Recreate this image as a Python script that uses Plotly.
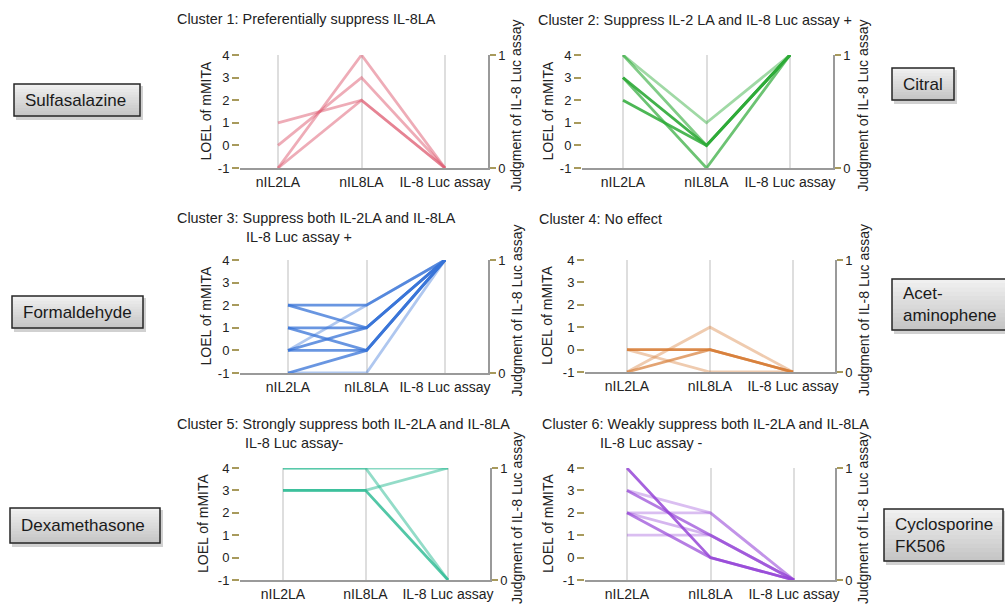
import plotly.graph_objects as go

W, H = 1005, 609

# ---------------- data ----------------
categories = ["nIL2LA", "nIL8LA", "IL-8 Luc assay"]
loel_ticks = [-1, 0, 1, 2, 3, 4]
judgment_ticks = [0, 1]

c1_il2 = [1, 0, -1, -1]
c1_il8 = [2, 3, 4, 2]
c1_luc = [0, 0, 0, 0]

c2_il2 = [4, 4, 3, 3, 2]
c2_il8 = [1, 0, 0, -1, 0]
c2_luc = [1, 1, 1, 1, 1]

c3_il2 = [2, 2, 1, 1, 0, 0, 0, -1, -1]
c3_il8 = [2, 1, 1, 0, 2, 1, 0, 0, -1]
c3_luc = [1, 1, 1, 1, 1, 1, 1, 1, 1]

c4_il2 = [0, 0, -1, -1]
c4_il8 = [0, -1, 1, 0]
c4_luc = [0, 0, 0, 0]

c5_il2 = [4, 4, 3, 3]
c5_il8 = [4, 4, 3, 3]
c5_luc = [1, 0, 1, 0]

c6_il2 = [4, 3, 3, 2, 2, 2, 1]
c6_il8 = [0, 2, 1, 2, 1, 0, 1]
c6_luc = [0, 0, 0, 0, 0, 0, 0]

titles = [
    ["Cluster 1: Preferentially suppress IL-8LA"],
    ["Cluster 2: Suppress IL-2 LA and IL-8 Luc assay +"],
    ["Cluster 3: Suppress both IL-2LA and IL-8LA", "IL-8 Luc assay +"],
    ["Cluster 4: No effect"],
    ["Cluster 5: Strongly suppress both IL-2LA and IL-8LA", "IL-8 Luc assay-"],
    ["Cluster 6: Weakly suppress both IL-2LA and IL-8LA", "IL-8 Luc assay -"],
]
compounds = ["Sulfasalazine", "Citral", "Formaldehyde", "Acet-<br>aminophene",
             "Dexamethasone", "Cyclosporine<br>FK506"]

clusters = [
    (c1_il2, c1_il8, c1_luc),
    (c2_il2, c2_il8, c2_luc),
    (c3_il2, c3_il8, c3_luc),
    (c4_il2, c4_il8, c4_luc),
    (c5_il2, c5_il8, c5_luc),
    (c6_il2, c6_il8, c6_luc),
]

# ---------------- styles / positions ----------------
colors = ["222,90,112", "45,170,55", "55,115,215", "215,125,55", "40,185,145", "150,70,215"]
opac = [
    [0.5, 0.5, 0.5, 0.5],
    [0.45, 0.6, 0.9, 0.7, 0.85],
    [0.75, 0.75, 0.75, 0.75, 0.4, 0.75, 0.75, 0.75, 0.4],
    [0.9, 0.4, 0.4, 0.7],
    [0.55, 0.5, 0.5, 0.8],
    [0.85, 0.35, 0.7, 0.35, 0.4, 0.7, 0.35],
]
# plot geometry in pixels
geo = [
    dict(left=240, right=488, c0=278, c2=445, top=55, bottom=168, ylt=205, yrt=515, tx=175, ty=19, tx2=None),
    dict(left=582, right=833, c0=623, c2=790, top=55, bottom=168, ylt=547, yrt=862, tx=536, ty=20, tx2=None),
    dict(left=240, right=488, c0=288, c2=445, top=260, bottom=373, ylt=205, yrt=516, tx=175, ty=218, tx2=244),
    dict(left=585, right=835, c0=627, c2=793, top=260, bottom=372, ylt=547, yrt=864, tx=537, ty=219, tx2=None),
    dict(left=240, right=490, c0=283, c2=448, top=468, bottom=580, ylt=203, yrt=517, tx=175, ty=424, tx2=243),
    dict(left=585, right=835, c0=627, c2=794, top=468, bottom=580, ylt=548, yrt=863, tx=540, ty=424, tx2=598),
]
boxes = [
    dict(x0=14, x1=140, y0=84, y1=116, tx=23),
    dict(x0=892, x1=954, y0=68, y1=100, tx=901),
    dict(x0=12, x1=143, y0=296, y1=328, tx=21),
    dict(x0=892, x1=1010, y0=279, y1=330, tx=901),
    dict(x0=10, x1=160, y0=508, y1=543, tx=19),
    dict(x0=884, x1=1003, y0=509, y1=561, tx=893),
]

FONT = "Liberation Sans, Arial, Helvetica, sans-serif"
OLIVE = "#a89a5c"


def px(x):
    return x / W


def py(y):
    return 1 - y / H


fig = go.Figure()
layout = dict(
    template="none",
    width=W, height=H, autosize=False, margin=dict(l=0, r=0, t=0, b=0, pad=0),
    paper_bgcolor="white", plot_bgcolor="white", showlegend=False,
    font=dict(family=FONT, color="#222"),
)
annotations = []
shapes = []

for i, ((il2, il8, luc), g) in enumerate(zip(clusters, geo)):
    n = i + 1
    xa = "x" if n == 1 else f"x{n}"
    ya = "y" if n == 1 else f"y{n}"
    yr = f"y{n + 6}"
    scale = (g["c2"] - g["c0"]) / 2.0
    xmin = -(g["c0"] - g["left"]) / scale
    xmax = 2 + (g["right"] - g["c2"]) / scale
    xdom = [px(g["left"]), px(g["right"])]
    ydom = [py(g["bottom"]), py(g["top"])]

    for k in range(len(il2)):
        # judgment 0/1 drawn at the matching height of the left LOEL scale (-1..4)
        yv = [il2[k], il8[k], -1 + 5 * luc[k]]
        fig.add_trace(go.Scatter(
            x=categories, y=yv, mode="lines", xaxis=xa, yaxis=ya,
            line=dict(color=f"rgba({colors[i]},{opac[i][k]})", width=2.8),
            hoverinfo="skip",
        ))
    # dummy trace for right axis
    fig.add_trace(go.Scatter(x=[categories[0]], y=[None], xaxis=xa, yaxis=yr,
                             mode="markers", hoverinfo="skip"))

    layout["xaxis" if n == 1 else f"xaxis{n}"] = dict(
        domain=xdom, range=[xmin, xmax], anchor=ya, type="category",
        categoryorder="array", categoryarray=categories, automargin=False,
        showgrid=True, gridcolor="#dedede", gridwidth=1.5,
        showline=True, linecolor="#9a9a9a", linewidth=1.5,
        ticks="", tickfont=dict(size=14, family=FONT, color="#222"),
        zeroline=False, fixedrange=True,
    )
    layout["yaxis" if n == 1 else f"yaxis{n}"] = dict(
        domain=ydom, range=[-1, 4], anchor=xa, automargin=False,
        tickvals=loel_ticks, ticktext=[str(v) for v in loel_ticks],
        ticks="outside", ticklen=7, tickcolor=OLIVE, tickwidth=1.5,
        showline=False, showgrid=False, zeroline=False,
        tickfont=dict(size=13, family=FONT, color="#222"), fixedrange=True,
    )
    layout[f"yaxis{n + 6}"] = dict(
        domain=ydom, range=[0, 1], anchor=xa, overlaying=ya, side="right", automargin=False,
        tickvals=judgment_ticks, ticktext=[str(v) for v in judgment_ticks],
        ticks="outside", ticklen=6, tickcolor=OLIVE, tickwidth=1.5,
        showline=True, linecolor="#9a9a9a", linewidth=1.5,
        showgrid=False, zeroline=False,
        tickfont=dict(size=13, family=FONT, color="#222"), fixedrange=True,
    )

    ymid = (g["top"] + g["bottom"]) / 2
    annotations.append(dict(
        text="LOEL of mMITA", x=px(g["ylt"]), y=py(ymid), xref="paper", yref="paper",
        textangle=-90, showarrow=False, font=dict(size=14, family=FONT, color="#222"),
        xanchor="center", yanchor="middle"))
    annotations.append(dict(
        text="Judgment of IL-8 Luc assay", x=px(g["yrt"]), y=py(ymid - 6), xref="paper", yref="paper",
        textangle=-90, showarrow=False, font=dict(size=14, family=FONT, color="#222"),
        xanchor="center", yanchor="middle"))

    t = titles[i]
    annotations.append(dict(
        text=t[0], x=px(g["tx"]), y=py(g["ty"]), xref="paper", yref="paper",
        showarrow=False, xanchor="left", yanchor="middle",
        font=dict(size=14.4, family=FONT, color="#222")))
    if len(t) > 1:
        annotations.append(dict(
            text=t[1], x=px(g["tx2"]), y=py(g["ty"] + 19), xref="paper", yref="paper",
            showarrow=False, xanchor="left", yanchor="middle",
            font=dict(size=14.4, family=FONT, color="#222")))

# compound label boxes
for name, b in zip(compounds, boxes):
    # shadow
    shapes.append(dict(type="rect", xref="paper", yref="paper",
                       x0=px(b["x0"] + 2), x1=px(b["x1"] + 3), y0=py(b["y1"] + 4), y1=py(b["y0"] + 2),
                       fillcolor="rgba(0,0,0,0.18)", line=dict(width=0), layer="below"))
    nb = 12
    hgt = (b["y1"] - b["y0"]) / nb
    for j in range(nb):
        v = int(240 - (240 - 198) * j / (nb - 1))
        shapes.append(dict(type="rect", xref="paper", yref="paper",
                           x0=px(b["x0"]), x1=px(b["x1"]),
                           y0=py(b["y0"] + (j + 1) * hgt + 0.5), y1=py(b["y0"] + j * hgt),
                           fillcolor=f"rgb({v},{v},{v})", line=dict(width=0), layer="below"))
    shapes.append(dict(type="rect", xref="paper", yref="paper",
                       x0=px(b["x0"]), x1=px(b["x1"]), y0=py(b["y1"]), y1=py(b["y0"]),
                       fillcolor="rgba(0,0,0,0)", line=dict(color="#262626", width=1.5), layer="above"))
    annotations.append(dict(
        text=name, x=px(b["tx"]), y=py((b["y0"] + b["y1"]) / 2), xref="paper", yref="paper",
        showarrow=False, xanchor="left", yanchor="middle", align="left",
        font=dict(size=17, family=FONT, color="#1a1a1a")))

layout["annotations"] = annotations
layout["shapes"] = shapes
fig.update_layout(**layout)

pin = ("document.documentElement.style.margin='0';document.body.style.margin='0';"
       "document.body.style.overflow='hidden';document.documentElement.style.overflow='hidden';"
       "var d=document.getElementsByClassName('plotly-graph-div')[0];"
       "d.style.position='fixed';d.style.left='0px';d.style.top='0px';")
fig.write_html("out.html", config={"displayModeBar": False}, post_script=pin)
